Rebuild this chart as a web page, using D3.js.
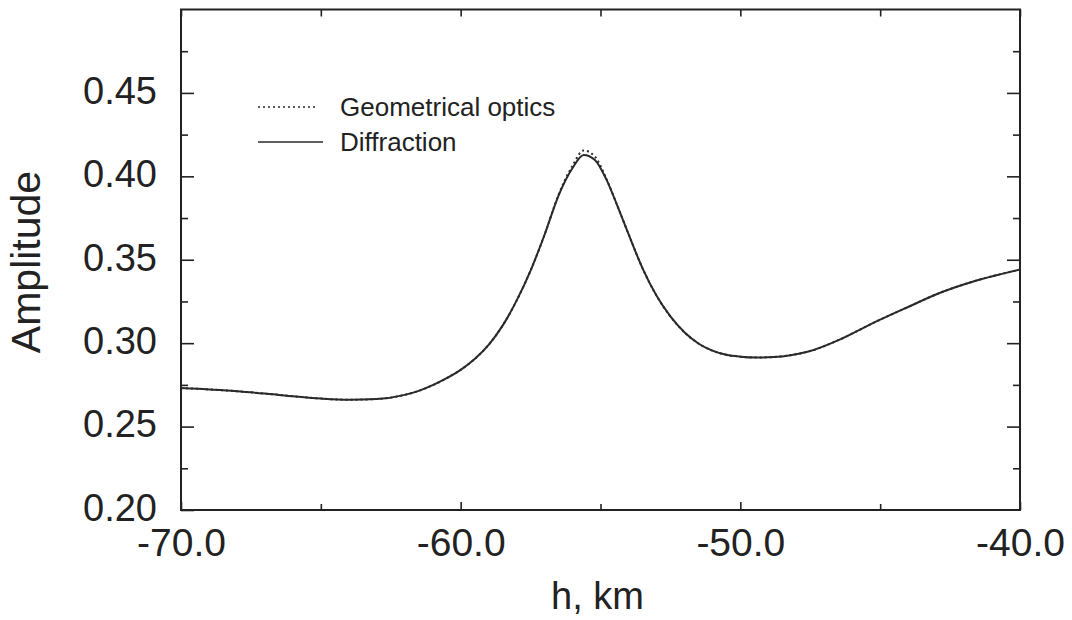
<!DOCTYPE html>
<meta charset="utf-8">
<head>
  <title>Amplitude vs h</title>
</head>

<style>
body { margin: 0; background: #fff; }
text {
  font-family: "Liberation Sans", Arial, Helvetica, sans-serif;
  fill: #222;
}
.axis line { stroke: #222; stroke-width: 1.6; }
.axis path { display: none; }
.frame { fill: none; stroke: #222; stroke-width: 2; }
.curve { fill: none; stroke: #2a2a2a; stroke-width: 2; }
.dotted { stroke-dasharray: 2 3; }
</style>

<body>
  <svg width="1072" height="620">
    <g class="plot"></g>
  </svg>

  <script src="https://cdnjs.cloudflare.com/ajax/libs/d3/7.8.5/d3.min.js"></script>
  <script>
// h, km
var hValues = [-70, -68, -66.5, -65, -64, -63, -62, -61.5, -61, -60.5, -60, -59.5, -59,
  -58.5, -58, -57.5, -57, -56.5, -56, -55.6, -55.2, -54.8, -54.4, -54, -53.5, -53, -52.5,
  -52, -51.5, -51, -50.5, -50, -49.4, -48.8, -48.2, -47.6, -46.4, -45.3, -44, -42.9,
  -41.7, -40];

var diffraction = [0.2731, 0.2712, 0.2690, 0.2668, 0.2661, 0.2665, 0.2690, 0.2714, 0.2748,
  0.2790, 0.2840, 0.2905, 0.2990, 0.3105, 0.3255, 0.3435, 0.3650, 0.3885, 0.4050, 0.4128,
  0.4098, 0.3985, 0.3825, 0.3655, 0.3450, 0.3285, 0.3160, 0.3065, 0.2998, 0.2955, 0.2930,
  0.2919, 0.2914, 0.2917, 0.2928, 0.2948, 0.3025, 0.3117, 0.3217, 0.3299, 0.3368, 0.3441];

var geometrical = [0.2731, 0.2712, 0.2690, 0.2668, 0.2661, 0.2665, 0.2690, 0.2714, 0.2748,
  0.2790, 0.2840, 0.2905, 0.2990, 0.3105, 0.3255, 0.3435, 0.3650, 0.3890, 0.4064, 0.4155,
  0.4118, 0.3990, 0.3825, 0.3655, 0.3450, 0.3285, 0.3160, 0.3065, 0.2998, 0.2955, 0.2930,
  0.2919, 0.2914, 0.2917, 0.2928, 0.2948, 0.3025, 0.3117, 0.3217, 0.3299, 0.3368, 0.3441];

var xMajor = [-70, -60, -50, -40];
var xMinor = [-65, -55, -45];
var yMajor = [0.20, 0.25, 0.30, 0.35, 0.40, 0.45];
var yMinor = [0.225, 0.275, 0.325, 0.375, 0.425, 0.475];

var legendLabels = ["Geometrical optics", "Diffraction"];

var marginLeft = 181, marginTop = 9.5, width = 839, height = 500.5;

var x = d3.scaleLinear().domain([-70, -40]).range([0, width]);
var y = d3.scaleLinear().domain([0.20, 0.50]).range([height, 0]);

var fmtX = function(d) { return d3.format('.1f')(d).replace('\u2212', '-'); };

var g = d3.select('svg g.plot')
  .attr('transform', 'translate(' + marginLeft + ',' + marginTop + ')');

// x axes (bottom with labels, top ticks only)
g.append('g').attr('class', 'axis')
  .attr('transform', 'translate(0,' + height + ')')
  .call(d3.axisBottom(x).tickValues(xMajor).tickSize(-8).tickPadding(18)
    .tickFormat(fmtX))
  .selectAll('text').style('font-size', '39px');

g.append('g').attr('class', 'axis')
  .attr('transform', 'translate(0,' + height + ')')
  .call(d3.axisBottom(x).tickValues(xMinor).tickSize(-6).tickFormat(''));

g.append('g').attr('class', 'axis')
  .call(d3.axisTop(x).tickValues(xMajor.concat(xMinor)).tickSize(-7).tickFormat(''));

// y axes
g.append('g').attr('class', 'axis')
  .call(d3.axisLeft(y).tickValues(yMajor).tickSize(-13).tickPadding(24)
    .tickFormat(d3.format('.2f')))
  .selectAll('text').style('font-size', '38px').attr('dy', '0.27em');

g.append('g').attr('class', 'axis')
  .call(d3.axisLeft(y).tickValues(yMinor).tickSize(-7).tickFormat(''));

g.append('g').attr('class', 'axis')
  .attr('transform', 'translate(' + width + ',0)')
  .call(d3.axisRight(y).tickValues(yMajor.slice(1)).tickSize(-13).tickFormat(''));

g.append('g').attr('class', 'axis')
  .attr('transform', 'translate(' + width + ',0)')
  .call(d3.axisRight(y).tickValues(yMinor).tickSize(-7).tickFormat(''));

g.append('rect').attr('class', 'frame')
  .attr('width', width).attr('height', height);

// curves
var line = d3.line()
  .x(function(d) { return x(d[0]); })
  .y(function(d) { return y(d[1]); })
  .curve(d3.curveMonotoneX);

g.append('path').attr('class', 'curve')
  .attr('d', line(d3.zip(hValues, diffraction)));

g.append('path').attr('class', 'curve dotted')
  .attr('d', line(d3.zip(hValues, geometrical)));

// legend
var legend = g.selectAll('.legend')
  .data(legendLabels)
  .enter()
  .append('g')
  .attr('class', 'legend')
  .attr('transform', function(d, i) { return 'translate(77,' + (97.5 + i * 35) + ')'; });

legend.append('line')
  .attr('class', function(d, i) { return i === 0 ? 'curve dotted' : 'curve'; })
  .attr('x1', 0).attr('x2', function(d, i) { return i === 0 ? 60 : 65; })
  .attr('y1', 0).attr('y2', 0)
  .style('stroke-width', 1.6);

legend.append('text')
  .attr('x', 82).attr('dy', '0.35em')
  .style('font-size', '26px')
  .text(function(d) { return d; });

// axis titles
g.append('text')
  .attr('x', width / 2 - 3).attr('y', 609 - marginTop)
  .attr('text-anchor', 'middle')
  .style('font-size', '38px')
  .text('h, km');

g.append('text')
  .attr('transform', 'translate(' + (40 - marginLeft) + ',' + (262 - marginTop) + ') rotate(-90)')
  .attr('text-anchor', 'middle')
  .style('font-size', '41px')
  .text('Amplitude');
  </script>
</body>
</html>
